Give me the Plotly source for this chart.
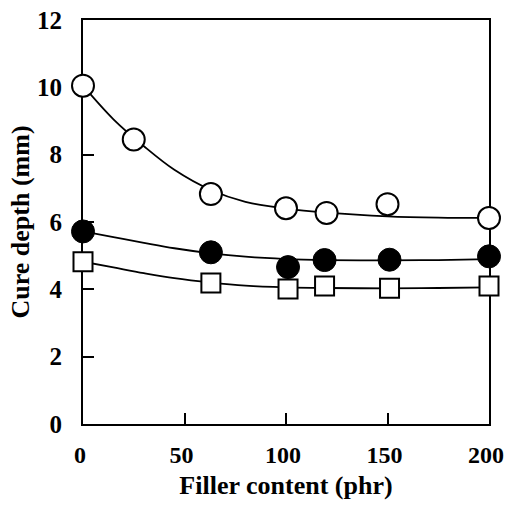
import plotly.graph_objects as go

# Measured points
x_pts = [0, 25, 63, 100, 120, 150, 200]
open_circle = [10.05, 8.45, 6.83, 6.41, 6.27, 6.53, 6.12]
x_pts2 = [0, 63, 101, 119, 151, 200]
filled_circle = [5.72, 5.10, 4.66, 4.87, 4.88, 4.98]
square = [4.82, 4.19, 4.01, 4.10, 4.03, 4.10]

# Fitted curves
curve_x = [0, 15, 30, 45, 63, 80, 100, 120, 150, 175, 200]
curve_open = [10.05, 9.05, 8.25, 7.55, 6.95, 6.6, 6.4, 6.28, 6.17, 6.13, 6.12]
curve_filled = [5.72, 5.55, 5.38, 5.22, 5.07, 4.97, 4.90, 4.87, 4.86, 4.87, 4.90]
curve_square = [4.82, 4.65, 4.48, 4.33, 4.20, 4.11, 4.06, 4.04, 4.03, 4.04, 4.06]

x_ticks = [0, 50, 100, 150, 200]
y_ticks = [0, 2, 4, 6, 8, 10, 12]

fig = go.Figure()
for cy in (curve_open, curve_filled, curve_square):
    fig.add_trace(go.Scatter(x=curve_x, y=cy, mode="lines", line=dict(color="black", width=1.8, shape="spline"),
                             hoverinfo="skip", cliponaxis=False))
fig.add_trace(go.Scatter(x=x_pts, y=open_circle, mode="markers", cliponaxis=False,
                         marker=dict(symbol="circle", size=22, color="white", line=dict(color="black", width=2))))
fig.add_trace(go.Scatter(x=x_pts2, y=filled_circle, mode="markers", cliponaxis=False,
                         marker=dict(symbol="circle", size=23, color="black", line=dict(color="black", width=1))))
fig.add_trace(go.Scatter(x=x_pts2, y=square, mode="markers", cliponaxis=False,
                         marker=dict(symbol="square", size=19, color="white", line=dict(color="black", width=2))))

font_family = "Liberation Serif"
fig.update_layout(
    width=506, height=509,
    margin=dict(l=83, r=17, t=20, b=85),
    paper_bgcolor="white", plot_bgcolor="white",
    showlegend=False,
    font=dict(family=font_family, color="black"),
    xaxis=dict(range=[0, 200], tickvals=x_ticks, ticktext=[f"<b>{v}</b>" for v in x_ticks],
               ticks="inside", ticklen=11, tickwidth=2, tickcolor="black", automargin=False,
               showline=True, linecolor="black", linewidth=2.2, mirror=True, showgrid=False, zeroline=False,
               layer="below traces", ticklabeloverflow="allow", ticklabelstandoff=8, ticklabelshift=-3,
               tickfont=dict(family=font_family, size=24, color="black"),
               title=dict(text="<b>Filler content (phr)</b>", font=dict(family=font_family, size=26), standoff=9)),
    yaxis=dict(range=[0, 12], tickvals=y_ticks, ticktext=[f"<b>{v}</b>" for v in y_ticks],
               ticks="inside", ticklen=11, tickwidth=2, tickcolor="black", automargin=False,
               showline=True, linecolor="black", linewidth=2.2, mirror=True, showgrid=False, zeroline=False,
               layer="below traces", ticklabeloverflow="allow", ticklabelstandoff=14,
               tickfont=dict(family=font_family, size=25, color="black"),
               title=dict(text="<b>Cure depth (mm)</b>", font=dict(family=font_family, size=26), standoff=0)),
)
fig.write_html("out.html")
